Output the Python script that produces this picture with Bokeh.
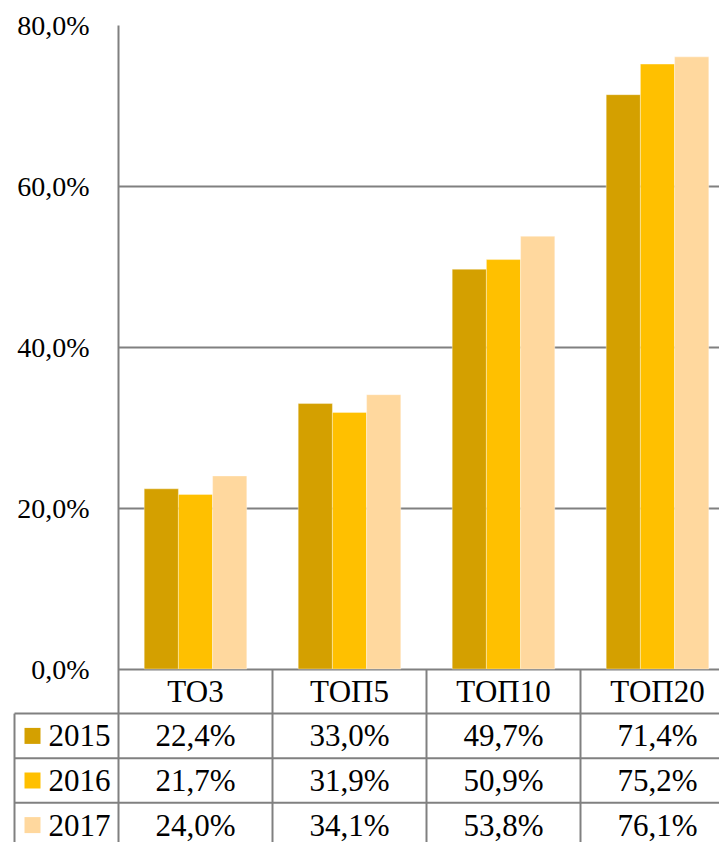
from bokeh.plotting import figure
from bokeh.models import Range1d, FixedTicker
from bokeh.embed import file_html
from bokeh.resources import INLINE
from bokeh.core.properties import value

# ---- data ----
categories = ["ТО3", "ТОП5", "ТОП10", "ТОП20"]
years = ["2015", "2016", "2017"]
values_2015 = [22.4, 33.0, 49.7, 71.4]
values_2016 = [21.7, 31.9, 50.9, 75.2]
values_2017 = [24.0, 34.1, 53.8, 76.1]
y_ticks = [0, 20, 40, 60, 80]
y_tick_labels = ["0,0%", "20,0%", "40,0%", "60,0%", "80,0%"]
colors = ["#D4A000", "#FFC000", "#FFD89E"]

series = [values_2015, values_2016, values_2017]

# ---- layout constants ----
GRAY = "#808080"
FONT = "Liberation Serif"
W, H = 719, 842
LEFT, TOP = 118, 25
ZERO_PX = 668.5
PX_PER_UNIT = (ZERO_PX - TOP) / 80.0
Y_BOTTOM = -(H - ZERO_PX) / PX_PER_UNIT
CAT_PX = 154.0
X_END = -0.5 + (W - LEFT) / CAT_PX
BW = 0.222
ROW_U = 44.6 / PX_PER_UNIT


def px_to_x(px):
    return -0.5 + (px - LEFT) / CAT_PX


p = figure(width=W, height=H,
           x_range=Range1d(-0.5, X_END), y_range=Range1d(Y_BOTTOM, 80),
           output_backend="svg", toolbar_location=None,
           x_axis_location=None,
           min_border_left=LEFT, min_border_right=0,
           min_border_top=TOP, min_border_bottom=0)
p.outline_line_color = None
p.background_fill_color = "white"
p.border_fill_color = "white"

# bars
for i, (vals, col) in enumerate(zip(series, colors)):
    xs = [c + (i - 1) * BW for c in range(len(categories))]
    p.vbar(x=xs, top=vals, bottom=0, width=BW, fill_color=col,
           line_color="white", line_alpha=0.35, line_width=1)

# y axis (its line continues down through the table)
p.yaxis.ticker = FixedTicker(ticks=y_ticks)
p.yaxis.major_label_overrides = dict(zip(y_ticks, y_tick_labels))
p.yaxis.axis_line_color = GRAY
p.yaxis.axis_line_width = 2
p.yaxis.major_tick_out = 0
p.yaxis.major_tick_in = 0
p.yaxis.minor_tick_out = 0
p.yaxis.minor_tick_in = 0
p.yaxis.major_label_text_font = FONT
p.yaxis.major_label_text_font_size = "28px"
p.yaxis.major_label_text_color = "black"
p.yaxis.major_label_standoff = 29

# grid (0-line doubles as top border of the data table)
p.xgrid.visible = False
p.ygrid.ticker = FixedTicker(ticks=y_ticks)
p.ygrid.grid_line_color = GRAY
p.ygrid.grid_line_width = 2

# ---- data table ----
n_cat = len(categories)
n_rows = len(years)
cat_pos = list(range(n_cat))
legend_left = px_to_x(14)
key_x = px_to_x(32)
label_x = px_to_x(48)
row_y = [-(k + 1.5) * ROW_U for k in range(n_rows)]
header_y = -0.5 * ROW_U

# horizontal borders below header and between rows
hy = [-(k + 1) * ROW_U for k in range(n_rows)]
p.segment(x0=[legend_left] * n_rows, x1=[X_END] * n_rows, y0=hy, y1=hy,
          line_color=GRAY, line_width=2, level="overlay")
# vertical borders between categories
vx = [c - 0.5 for c in cat_pos[1:]]
p.segment(x0=vx, x1=vx, y0=[0] * len(vx), y1=[Y_BOTTOM] * len(vx),
          line_color=GRAY, line_width=2)
# left border of legend column
p.segment(x0=[legend_left], x1=[legend_left], y0=[-ROW_U], y1=[Y_BOTTOM],
          line_color=GRAY, line_width=2, level="overlay")

# header
p.text(x=cat_pos, y=[header_y] * n_cat, text=categories,
       text_font=value(FONT), text_font_size=value("31px"),
       text_align="center", text_baseline="middle", text_color="black")

# legend keys + labels
p.rect(x=[key_x] * n_rows, y=row_y, width=16, height=16,
       width_units="screen", height_units="screen",
       fill_color=colors, line_color=None, level="overlay")
p.text(x=[label_x] * n_rows, y=row_y, text=years,
       text_font=value(FONT), text_font_size=value("31px"),
       text_align="left", text_baseline="middle", text_color="black",
       level="overlay")

# values
tx, ty, tt = [], [], []
for k, vals in enumerate(series):
    for c, v in enumerate(vals):
        tx.append(c)
        ty.append(row_y[k])
        tt.append(f"{v:.1f}%".replace(".", ","))
p.text(x=tx, y=ty, text=tt,
       text_font=value(FONT), text_font_size=value("31px"),
       text_align="center", text_baseline="middle", text_color="black")

open("out.html", "w").write(file_html(p, INLINE))
